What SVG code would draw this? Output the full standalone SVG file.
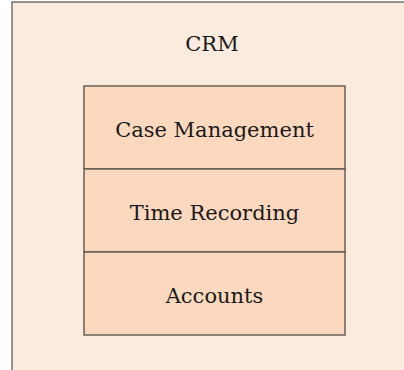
<svg xmlns="http://www.w3.org/2000/svg" width="404" height="370" viewBox="0 0 404 370">
  <style>
    .frame { fill: #FBEADE; stroke: #6E6862; stroke-width: 1.4; }
    .cell { fill: #FCD9BE; stroke: #5E574F; stroke-width: 1.4; }
    .label { font-family: "DejaVu Serif", "Liberation Serif", serif; font-size: 21px; fill: #1a1a1a; text-anchor: middle; }
  </style>
  <rect width="404" height="370" fill="#FFFFFF"/>
  <g id="crm">
    <rect class="frame" x="12" y="2" width="400" height="380"/>
    <text class="label" x="212" y="51">CRM</text>
  </g>
  <g id="case-management">
    <rect class="cell" x="84" y="86" width="261" height="83"/>
    <text class="label" x="214.5" y="136.5">Case Management</text>
  </g>
  <g id="time-recording">
    <rect class="cell" x="84" y="169" width="261" height="83"/>
    <text class="label" x="214.5" y="219.5">Time Recording</text>
  </g>
  <g id="accounts">
    <rect class="cell" x="84" y="252" width="261" height="83"/>
    <text class="label" x="214.5" y="302.5">Accounts</text>
  </g>
  <g id="connectors"/>
</svg>
